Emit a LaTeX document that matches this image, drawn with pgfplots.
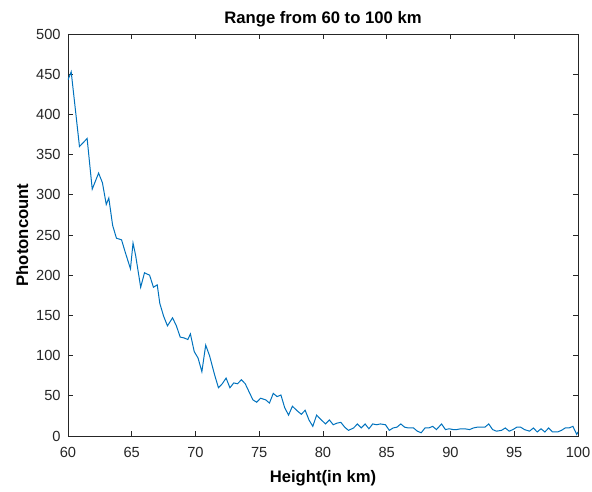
\documentclass[border=0pt]{standalone}
\usepackage{pgfplots}
\pgfplotsset{compat=1.18}
\usepackage{fontspec}
\setmainfont{Liberation Sans}
\usetikzlibrary{calc}
\definecolor{mblue}{RGB}{0,114,189}
\definecolor{maxis}{RGB}{38,38,38}

\begin{document}
\begin{tikzpicture}
\begin{axis}[
    scale only axis,
    width=382.5pt, height=301.5pt,
    xmin=60, xmax=100, ymin=0, ymax=500,
    xtick={60,65,...,100},
    ytick={0,50,...,500},
    tick align=inside,
    major tick length=4pt,
    axis line style={maxis, line width=0.5pt},
    every tick/.style={maxis, line width=0.5pt},
    tick label style={font=\fontsize{11}{13}\selectfont, text=maxis},
    xticklabel style={yshift=-5pt},
    yticklabel style={xshift=-2pt},
    /pgf/number format/assume math mode=true,
    title={\textbf{Range from 60 to 100 km}},
    title style={font=\fontsize{12.5}{14}\selectfont, yshift=-4.5pt},
    xlabel={\textbf{Height(in km)}},
    ylabel={\textbf{Photoncount}},
    label style={font=\fontsize{12.5}{14}\selectfont},
    xlabel style={yshift=-3pt},
    ylabel style={yshift=-1pt},
]
\addplot[color=mblue, line width=0.75pt] coordinates {
(60.0,443) (60.25,453) (60.9,360) (61.5,370) (61.9,307) (62.4,327) (62.7,315)
(63.0,288) (63.2,296) (63.5,262) (63.8,246) (64.2,244) (64.5,228) (64.9,208)
(65.1,240) (65.3,225) (65.7,185) (66.0,203) (66.4,200) (66.7,185) (67.0,188)
(67.2,165) (67.5,149) (67.8,137) (68.2,147) (68.5,137) (68.8,123) (69.1,122)
(69.4,120) (69.6,127) (69.9,105) (70.2,97) (70.5,80) (70.8,113) (71.1,100)
(71.5,76) (71.8,60) (72.1,65) (72.4,72) (72.7,60) (73.0,66) (73.3,65)
(73.6,70) (73.9,65) (74.2,55) (74.5,45) (74.8,42) (75.1,47) (75.5,45)
(75.8,41) (76.1,53) (76.4,49) (76.7,51) (77.0,35) (77.3,26) (77.6,37)
(78.0,31) (78.3,27) (78.6,32) (78.9,20) (79.2,12) (79.5,26) (79.8,21)
(80.2,15) (80.5,20) (80.8,14) (81.1,16) (81.4,17) (81.7,11) (82.0,7)
(82.4,10) (82.7,15) (83.0,10) (83.3,15) (83.6,9) (83.9,15) (84.2,14)
(84.5,15) (84.9,14) (85.2,7) (85.5,10) (85.8,11) (86.1,15) (86.4,11)
(86.7,10) (87.1,10) (87.4,6) (87.7,4) (88.0,10) (88.3,10) (88.6,12)
(88.9,8) (89.3,15) (89.6,8) (89.9,9) (90.2,8) (90.5,8) (90.8,9)
(91.1,9) (91.5,8) (91.8,10) (92.1,11) (92.4,11) (92.7,11) (93.0,15)
(93.3,8) (93.6,6) (94.0,7) (94.3,10) (94.6,6) (94.9,8) (95.2,11)
(95.5,11) (95.8,8) (96.2,6) (96.5,10) (96.8,5) (97.1,9) (97.4,5)
(97.7,10) (98.0,5) (98.4,5) (98.7,7) (99.0,10) (99.3,10) (99.6,12)
(99.9,2) (100.0,5)
};
\end{axis}
\pgfresetboundingbox
\path ($(current axis.south west)+(-51pt,-42pt)$) rectangle ($(current axis.north east)+(10.5pt,25.5pt)$);
\end{tikzpicture}
\end{document}
